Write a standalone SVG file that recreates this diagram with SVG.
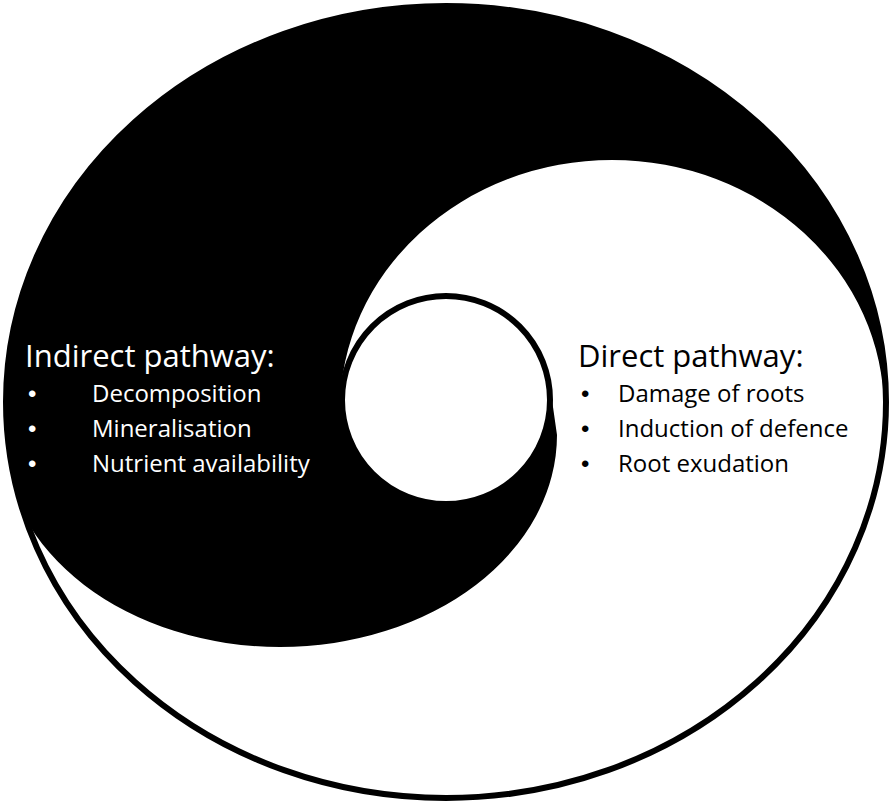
<svg xmlns="http://www.w3.org/2000/svg" width="892" height="805" viewBox="0 0 892 805">
<style>
.h{font-family:"Open Sans","Liberation Sans",sans-serif;font-size:31px}
.b{font-family:"Open Sans","Liberation Sans",sans-serif;font-size:24px}
.d{font-family:"Liberation Sans",sans-serif;font-size:24px}
.w{fill:#fff}.k{fill:#000}
</style>
<defs><clipPath id="c"><ellipse cx="446" cy="402" rx="440" ry="396"/></clipPath></defs>
<rect width="892" height="805" fill="#fff"/>
<g id="shapes">
<g clip-path="url(#c)">
<path d="M-10,410 L-10,-10 L900,-10 L900,410 L884,410 A272 250 0 0 0 340 410 Z" fill="#000"/>
<path d="M-10,400 L-10,435 L3,435 A277 212 0 0 0 557 435 L552 400 Z" fill="#000"/>
</g>
<ellipse id="outer" cx="446" cy="402" rx="440" ry="396" fill="none" stroke="#000" stroke-width="6"/>
<circle id="inner" cx="446" cy="400" r="104" fill="#fff" stroke="#000" stroke-width="6"/>
</g>
<g id="indirect" class="w">
<text class="h" x="25" y="367">Indirect pathway:</text>
<text class="d" x="28" y="402">•</text><text class="b" x="92" y="402">Decomposition</text>
<text class="d" x="28" y="437">•</text><text class="b" x="92" y="437">Mineralisation</text>
<text class="d" x="28" y="472">•</text><text class="b" x="92" y="472">Nutrient availability</text>
</g>
<g id="direct" class="k">
<text class="h" x="578" y="367">Direct pathway:</text>
<text class="d" x="581" y="402">•</text><text class="b" x="618" y="402">Damage of roots</text>
<text class="d" x="581" y="437">•</text><text class="b" x="618" y="437">Induction of defence</text>
<text class="d" x="581" y="472">•</text><text class="b" x="618" y="472">Root exudation</text>
</g>
<g id="connectors"/>
</svg>
